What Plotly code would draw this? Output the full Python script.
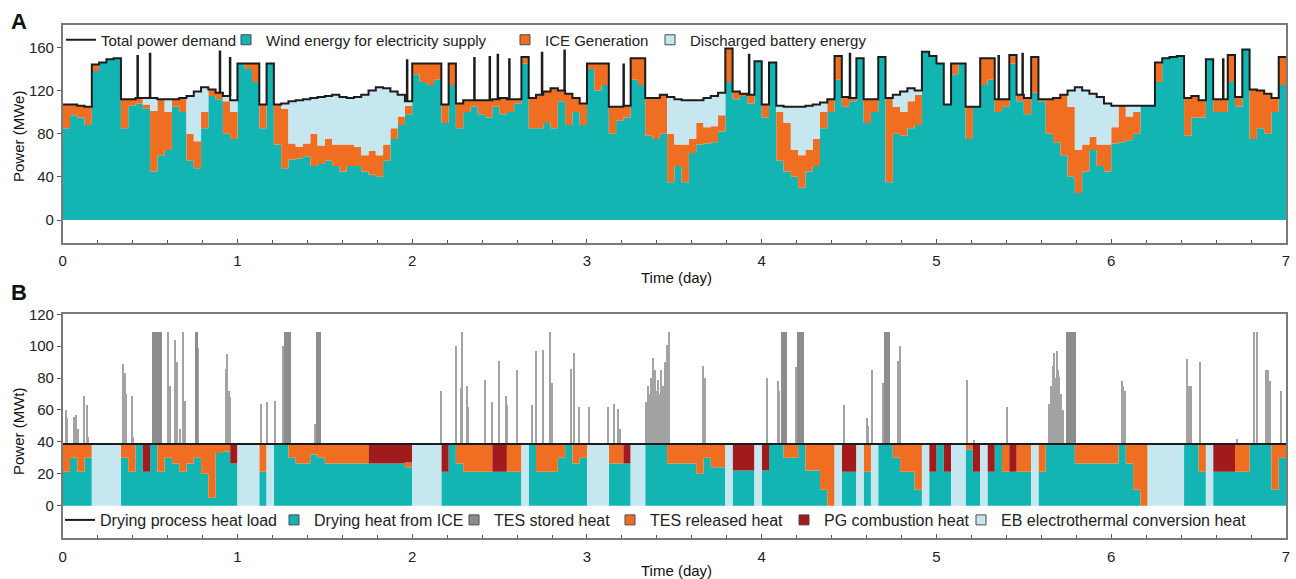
import numpy as np
import plotly.graph_objects as go

# ---------------- Panel A data (MWe), hourly values, one row per day ----------------
demand = [
    107,107,106,105,144,146,149,150,112,112,113,113,113,112,112,112,113,115,119,123,121,118,115,111,
    145,145,145,107,145,107,108,110,111,112,113,114,115,116,114,113,114,116,120,123,122,119,116,110,
    145,145,145,145,107,145,108,111,111,111,111,112,113,112,112,151,113,116,119,122,120,117,113,108,
    145,145,145,105,105,106,150,150,113,113,116,114,112,111,111,111,113,115,118,159,119,117,116,147,
    107,146,106,105,105,105,106,107,109,112,152,114,113,150,112,112,151,113,116,119,122,120,156,152,
    145,107,145,145,105,105,150,150,112,112,153,116,113,151,112,112,113,116,120,123,120,117,114,108,
    106,106,106,106,106,106,146,150,151,152,113,115,111,149,112,112,153,114,158,121,120,117,113,151,
]
wind = [
    85,97,95,88,138,146,149,150,85,106,108,103,45,60,65,105,100,55,48,85,115,112,80,75,
    145,140,128,85,145,70,48,56,57,59,50,52,55,50,45,50,50,45,42,40,55,75,88,98,
    135,128,125,130,90,125,85,100,105,98,95,105,98,100,108,145,85,85,90,85,110,88,100,88,
    140,120,125,80,92,95,130,125,78,75,80,35,50,35,62,70,71,72,82,128,112,115,108,147,
    95,146,55,45,40,30,45,50,85,100,130,105,110,150,90,100,151,35,80,78,85,88,156,152,
    145,107,135,145,75,105,125,130,100,105,145,110,98,118,110,80,72,60,40,25,45,65,50,45,
    71,72,74,80,106,106,128,150,151,152,78,95,95,149,100,100,128,105,158,75,85,80,100,125,
]
ice_gen = [
    22,10,11,17,6,0,0,0,27,6,5,4,56,52,35,7,13,25,25,15,6,6,30,25,
    0,5,17,22,0,37,55,15,11,12,30,17,20,20,25,20,18,15,22,20,15,10,8,8,
    10,17,20,15,17,20,23,11,6,13,16,7,15,12,4,6,28,31,29,37,10,29,13,20,
    5,25,20,25,13,11,20,25,35,38,36,45,20,35,13,20,15,15,15,31,7,2,8,0,
    12,0,45,45,25,30,20,25,15,12,22,9,3,0,22,12,0,78,25,22,25,28,0,0,
    0,0,10,0,30,0,25,20,12,7,8,6,15,33,2,32,41,56,65,40,25,12,20,25,
    15,34,22,20,0,0,18,0,0,0,35,20,16,0,12,12,25,9,0,46,35,37,13,26,
]
battery = [
    0,0,0,0,0,0,0,0,0,0,0,6,12,0,12,0,0,35,46,23,0,0,5,11,
    0,0,0,0,0,0,5,39,43,41,33,45,40,46,44,43,46,56,56,63,52,34,20,4,
    0,0,0,0,0,0,0,0,0,0,0,0,0,0,0,0,0,0,0,0,0,0,0,0,
    0,0,0,0,0,0,0,0,0,0,0,34,42,41,36,21,27,28,21,0,0,0,0,0,
    0,0,6,15,40,45,41,32,9,0,0,0,0,0,0,0,0,0,11,19,12,4,0,0,
    0,0,0,0,0,0,0,0,0,0,0,0,0,0,0,0,0,0,15,58,50,40,44,38,
    20,0,10,6,0,0,0,0,0,0,0,0,0,0,0,0,0,0,0,0,0,0,0,0,
]
# short demand peaks (day, MWe)
spike_day = [0.429, 0.500, 0.900, 0.958, 1.971, 2.356, 2.444, 2.490, 2.556, 2.743,
             2.872, 3.210, 3.928, 4.505, 5.356, 5.493, 6.641]
spike_peak = [153, 155, 157, 151, 149, 151, 152, 154, 150, 156,
              158, 145, 154, 155, 153, 155, 150]

# ---------------- Panel B data (MWt) ----------------
heat_load = 38.7
ice_heat = [
    21.3,30,21.3,30,0,0,0,0,30,21.3,38.7,21.3,38.7,21.3,30,26.5,21.3,26.5,30,20,5,33,34,26.5,
    0,0,0,21.3,0,38.7,38.7,30,26.5,26.5,32,30,26.5,26.5,26.5,26.5,26.5,26.5,26.5,26.5,26.5,26.5,26.5,24,
    0,0,0,0,21.3,38.7,26.5,21.3,21.3,21.3,21.3,21.3,21.3,21.3,21.3,0,38.7,21.3,21.3,21.3,30,38.7,26.5,30,
    0,0,0,26.5,26.5,26.5,0,0,38.7,38.7,38.7,26.5,26.5,26.5,26.5,20,30,24,24,0,22,22,22,0,
    22,38.7,38.7,30,30,38.7,22,22,10,0,0,21.3,21.3,0,21.3,0,38.7,38.7,30,21.3,21.3,10,0,21.3,
    38.7,21.3,0,0,35,21.3,0,21.3,38.7,21.3,21.3,21.3,21.3,0,21.3,38.7,38.7,38.7,38.7,26.5,26.5,26.5,26.5,26.5,
    26.5,38.7,26.5,10,0,0,0,0,0,0,38.7,38.7,21.3,0,21.3,21.3,21.3,21.3,21.3,38.7,38.7,38.7,10,30,
]
tes_released = [
    17.4,8.7,17.4,8.7,0,0,0,0,8.7,17.4,0,0,0,17.4,8.7,12.2,17.4,12.2,8.7,18.7,33.7,5.7,4.7,0,
    0,0,0,17.4,0,0,0,8.7,12.2,12.2,6.7,8.7,12.2,12.2,12.2,12.2,12.2,12.2,0,0,0,0,0,3,
    0,0,0,0,0,0,12.2,17.4,17.4,17.4,17.4,0,0,17.4,17.4,0,0,17.4,17.4,17.4,8.7,0,12.2,8.7,
    0,0,0,12.2,12.2,0,0,0,0,0,0,12.2,12.2,12.2,12.2,18.7,8.7,14.7,14.7,0,0,0,0,0,
    0,0,0,8.7,8.7,0,16.7,16.7,28.7,38.7,0,0,0,0,17.4,0,0,0,8.7,17.4,17.4,28.7,0,0,
    0,0,0,0,3.7,0,0,0,0,17.4,0,17.4,17.4,0,17.4,0,0,0,0,12.2,12.2,12.2,12.2,12.2,
    12.2,0,12.2,28.7,38.7,0,0,0,0,0,0,0,17.4,0,0,0,0,17.4,17.4,0,0,0,28.7,8.7,
]
pg_heat = [
    0,0,0,0,0,0,0,0,0,0,0,17.4,0,0,0,0,0,0,0,0,0,0,0,12.2,
    0,0,0,0,0,0,0,0,0,0,0,0,0,0,0,0,0,0,12.2,12.2,12.2,12.2,12.2,11.7,
    0,0,0,0,17.4,0,0,0,0,0,0,17.4,17.4,0,0,0,0,0,0,0,0,0,0,0,
    0,0,0,0,0,12.2,0,0,0,0,0,0,0,0,0,0,0,0,0,0,16.7,16.7,16.7,0,
    16.7,0,0,0,0,0,0,0,0,0,0,17.4,17.4,0,0,0,0,0,0,0,0,0,0,17.4,
    0,17.4,0,0,0,17.4,0,17.4,0,0,17.4,0,0,0,0,0,0,0,0,0,0,0,0,0,
    0,0,0,0,0,0,0,0,0,0,0,0,0,0,17.4,17.4,17.4,0,0,0,0,0,0,0,
]
eb_heat = [
    0,0,0,0,38.7,38.7,38.7,38.7,0,0,0,0,0,0,0,0,0,0,0,0,0,0,0,0,
    38.7,38.7,38.7,0,38.7,0,0,0,0,0,0,0,0,0,0,0,0,0,0,0,0,0,0,0,
    38.7,38.7,38.7,38.7,0,0,0,0,0,0,0,0,0,0,0,38.7,0,0,0,0,0,0,0,0,
    38.7,38.7,38.7,0,0,0,38.7,38.7,0,0,0,0,0,0,0,0,0,0,0,38.7,0,0,0,38.7,
    0,0,0,0,0,0,0,0,0,0,38.7,0,0,38.7,0,38.7,0,0,0,0,0,0,38.7,0,
    0,0,38.7,38.7,0,0,38.7,0,0,0,0,0,0,38.7,0,0,0,0,0,0,0,0,0,0,
    0,0,0,0,0,38.7,38.7,38.7,38.7,38.7,0,0,0,38.7,0,0,0,0,0,0,0,0,0,0,
]
# TES stored heat above the drying load: short pulses (day, MWt) and longer blocks
tes_spike_day = [0.015,0.024,0.061,0.073,0.086,0.121,0.138,0.144,
                 0.342,0.353,0.361,0.398,0.402,
                 0.603,0.613,0.642,0.651,0.670,0.688,0.699,
                 0.773, 0.933,0.941,0.948,0.958, 1.134,1.169,1.216, 1.258, 1.444,
                 2.162,2.248,2.276,2.286,2.314,2.318,
                 2.413,2.457,2.495,2.537,2.543,2.600,
                 2.686,2.705,2.749,2.790,2.800,
                 2.905,2.924,2.952,3.010,
                 3.118,3.152,3.175,3.187,
                 3.339,3.349,3.355,3.364,3.377,3.387,3.395,3.406,3.415,3.425,3.435,3.444,3.450,3.457,3.467,
                 3.660,3.675,
                 4.029,4.090,4.100,4.195,
                 4.468,4.599,4.605,4.628,4.690,4.777,4.790,
                 5.174,5.212,5.403,
                 5.644,5.655,5.663,5.673,5.680,5.688,5.695,5.702,5.710,5.720,
                 6.058,6.065,6.077,
                 6.433,6.442,6.456,6.504,
                 6.717, 6.817, 6.831,
                 6.885,6.890,6.898,6.903,6.908,
                 6.971]
tes_spike_amt = [21,16,17,18,9,30,24,4,
                 50,44,31,30,4,
                 70,36,65,51,9,70,27,
                 60, 47,56,33,29, 25,26,27, 61, 12,
                 33,61,35,70,36,23,
                 40,26,52,30,24,46,
                 24,58,59,70,38,
                 47,57,23,23,
                 23,25,22,9,
                 26,36,31,41,54,46,33,40,31,46,36,51,41,62,70,
                 49,41,
                 41,39,33,48,
                 24,16,11,46,38,52,61,
                 40,2,23,
                 25,36,49,57,41,58,46,42,31,21,
                 39,36,33,
                 53,36,36,51,
                 3, 70, 70,
                 46,31,46,36,39,
                 33]
tes_block_start = [0.512, 0.753, 1.264, 1.446, 4.109, 4.200, 4.700, 5.737]
tes_block_end = [0.565, 0.770, 1.303, 1.475, 4.143, 4.239, 4.735, 5.798]
tes_block_amt = [70, 70, 70, 70, 70, 70, 70, 70]

# ---------------- styling ----------------
TEAL = "#13b5b3"
ORANGE = "#ef6e22"
LBLUE = "#c6e7f0"
DRED = "#a11b1d"
GRAY = "#8d8d8d"
BLACK = "#1c1c1c"
FONT = "Liberation Sans, Arial, Helvetica, sans-serif"
W, H = 1296, 579

n = len(demand)
t = np.arange(n + 1) / 24.0  # day edges


def ext(a):
    a = np.asarray(a, dtype=float)
    return np.append(a, a[-1])


fig = go.Figure()

# ---- Panel A stacked areas ----
w = np.asarray(wind, float)
wi = w + np.asarray(ice_gen, float)
wib = wi + np.asarray(battery, float)
fig.add_trace(go.Scatter(x=t, y=ext(w), mode="lines", line=dict(width=0, shape="hv"),
                         fill="tozeroy", fillcolor=TEAL, showlegend=False, xaxis="x", yaxis="y"))
fig.add_trace(go.Scatter(x=t, y=ext(wi), mode="lines", line=dict(width=0, shape="hv"),
                         fill="tonexty", fillcolor=ORANGE, showlegend=False, xaxis="x", yaxis="y"))
fig.add_trace(go.Scatter(x=t, y=ext(wib), mode="lines", line=dict(width=0, shape="hv"),
                         fill="tonexty", fillcolor=LBLUE, showlegend=False, xaxis="x", yaxis="y"))
fig.add_trace(go.Scatter(x=t, y=ext(demand), mode="lines",
                         line=dict(width=2, shape="hv", color=BLACK),
                         name="Total power demand", legend="legend", xaxis="x", yaxis="y"))
sx, sy = [], []
for d, p in zip(spike_day, spike_peak):
    base = demand[int(d * 24)]
    sx += [d, d, None]
    sy += [base, p, None]
fig.add_trace(go.Scatter(x=sx, y=sy, mode="lines", line=dict(width=2.5, color=BLACK),
                         showlegend=False, xaxis="x", yaxis="y", hoverinfo="skip"))

# ---- Panel B stacked areas ----
b1 = np.asarray(ice_heat, float)
b2 = b1 + np.asarray(tes_released, float)
b3 = b2 + np.asarray(pg_heat, float)
b4 = b3 + np.asarray(eb_heat, float)
fig.add_trace(go.Scatter(x=t, y=ext(b1), mode="lines", line=dict(width=0, shape="hv"),
                         fill="tozeroy", fillcolor=TEAL, showlegend=False, xaxis="x2", yaxis="y2"))
fig.add_trace(go.Scatter(x=t, y=ext(b2), mode="lines", line=dict(width=0, shape="hv"),
                         fill="tonexty", fillcolor=ORANGE, showlegend=False, xaxis="x2", yaxis="y2"))
fig.add_trace(go.Scatter(x=t, y=ext(b3), mode="lines", line=dict(width=0, shape="hv"),
                         fill="tonexty", fillcolor=DRED, showlegend=False, xaxis="x2", yaxis="y2"))
fig.add_trace(go.Scatter(x=t, y=ext(b4), mode="lines", line=dict(width=0, shape="hv"),
                         fill="tonexty", fillcolor=LBLUE, showlegend=False, xaxis="x2", yaxis="y2"))

# TES stored heat (above drying load)
fig.add_trace(go.Bar(x=tes_spike_day, y=tes_spike_amt, base=[heat_load] * len(tes_spike_day),
                     width=0.007, marker=dict(color=GRAY, line=dict(width=0)), opacity=0.8,
                     showlegend=False, xaxis="x2", yaxis="y2"))
bs = np.asarray(tes_block_start)
be = np.asarray(tes_block_end)
fig.add_trace(go.Bar(x=(bs + be) / 2, y=tes_block_amt, base=[heat_load] * len(bs),
                     width=be - bs, marker=dict(color=GRAY, line=dict(width=0)),
                     showlegend=False, xaxis="x2", yaxis="y2"))

fig.add_trace(go.Scatter(x=[t[0], t[-1]], y=[heat_load, heat_load], mode="lines",
                         line=dict(width=2, color=BLACK), name="Drying process heat load",
                         legend="legend5", xaxis="x2", yaxis="y2"))

# ---- legend entries (square swatches) ----
swatches = [
    ("Wind energy for electricity supply", TEAL, "legend2", "x", "y"),
    ("ICE Generation", ORANGE, "legend3", "x", "y"),
    ("Discharged battery energy", LBLUE, "legend4", "x", "y"),
    ("Drying heat from ICE", TEAL, "legend6", "x2", "y2"),
    ("TES stored heat", GRAY, "legend7", "x2", "y2"),
    ("TES released heat", ORANGE, "legend8", "x2", "y2"),
    ("PG combustion heat", DRED, "legend9", "x2", "y2"),
    ("EB electrothermal conversion heat", LBLUE, "legend10", "x2", "y2"),
]
for name, col, leg, xa, ya in swatches:
    fig.add_trace(go.Scatter(x=[None], y=[None], mode="markers", name=name, legend=leg,
                             marker=dict(symbol="square", size=10, color=col,
                                         line=dict(width=1, color="#4a4a4a")),
                             xaxis=xa, yaxis=ya))

# ---------------- layout ----------------
xdom = [62.7 / W, 1286 / W]
ydomA = [1 - 242.7 / H, 1 - 25 / H]
ydomB = [1 - 538 / H, 1 - 314.3 / H]

axis_common = dict(showline=True, linecolor="#7a7a7a", linewidth=1.5, mirror=True,
                   showgrid=False, zeroline=False, tickcolor="#555", tickwidth=1.2,
                   tickfont=dict(family=FONT, size=15, color="#222"))
xcommon = dict(axis_common, range=[0, 7], tickvals=list(range(8)), ticks="inside", ticklen=4,
               minor=dict(dtick=0.2, ticks="inside", ticklen=3, tickcolor="#555"),
               ticklabelstandoff=4)


def leg(text_x, text_y, size):
    return dict(orientation="h", xanchor="left", yanchor="middle",
                x=(text_x - 40) / W, y=1 - text_y / H,
                bgcolor="rgba(0,0,0,0)", borderwidth=0,
                font=dict(family=FONT, size=size, color="#222"))


legA_text_x = {"legend": 101, "legend2": 266, "legend3": 545, "legend4": 690}
legB_text_x = {"legend5": 100, "legend6": 314, "legend7": 494, "legend8": 650,
               "legend9": 824, "legend10": 1001}
legends = {}
for k, xx in legA_text_x.items():
    legends[k] = leg(xx, 40, 15)
for k, xx in legB_text_x.items():
    legends[k] = leg(xx, 520, 16)

fig.update_layout(
    width=W, height=H,
    margin=dict(l=0, r=0, t=0, b=0, autoexpand=False),
    paper_bgcolor="white", plot_bgcolor="white",
    barmode="overlay", bargap=0,
    font=dict(family=FONT, size=15, color="#222"),
    xaxis=dict(xcommon, domain=xdom, anchor="y"),
    yaxis=dict(axis_common, domain=ydomA, anchor="x", range=[-21, 180.7],
               tickvals=[0, 40, 80, 120, 160], ticks="outside", ticklen=4),
    xaxis2=dict(xcommon, domain=xdom, anchor="y2"),
    yaxis2=dict(axis_common, domain=ydomB, anchor="x2", range=[-20.3, 120],
                tickvals=[0, 20, 40, 60, 80, 100, 120], ticks="outside", ticklen=4),
    showlegend=True,
    **legends,
)

ann = [
    dict(text="<b>A</b>", x=19 / W, y=1 - 22 / H, font=dict(size=22)),
    dict(text="<b>B</b>", x=19 / W, y=1 - 292 / H, font=dict(size=22)),
    dict(text="Time (day)", x=676 / W, y=1 - 277 / H, font=dict(size=15)),
    dict(text="Time (day)", x=676 / W, y=1 - 570 / H, font=dict(size=15)),
    dict(text="Power (MWe)", x=18 / W, y=1 - 137 / H, textangle=-90, font=dict(size=15)),
    dict(text="Power (MWt)", x=18 / W, y=1 - 431 / H, textangle=-90, font=dict(size=15)),
]
for a in ann:
    fig.add_annotation(xref="paper", yref="paper", showarrow=False, xanchor="center",
                       yanchor="middle", font_family=FONT, font_color="#111", **a)

fig.write_html("out.html", post_script="document.body.style.margin='0px';")
